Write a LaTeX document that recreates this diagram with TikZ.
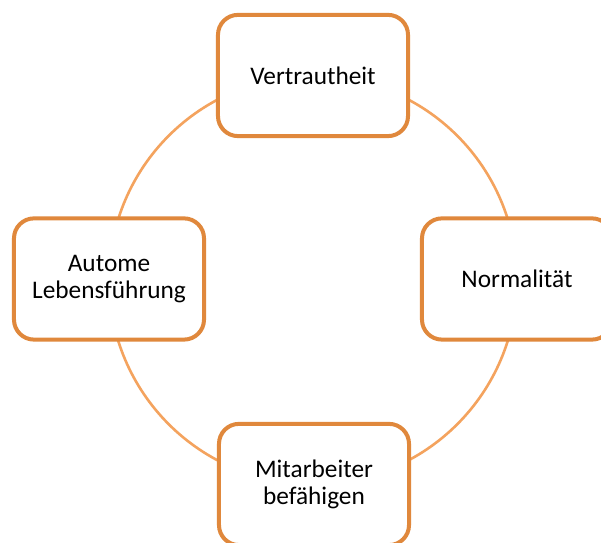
\documentclass[tikz,border=0pt]{standalone}
\usepackage{fontspec}
\setmainfont{Carlito}
\definecolor{boxorange}{HTML}{E0883C}
\definecolor{ringorange}{HTML}{F4A35E}
\tikzset{
  stage/.style={draw=boxorange, line width=0.1cm, rounded corners=0.5cm, fill=white,
    minimum width=4.75cm, minimum height=3.03cm, align=center,
    font=\fontsize{18}{19.5}\selectfont},
  ring/.style={draw=ringorange, line width=0.065cm}
}
\begin{document}
\begin{tikzpicture}[x=0.025cm,y=0.025cm]
        \useasboundingbox (0,0) rectangle (601,543);
        \clip (0,0) rectangle (601,543);
        \fill[white] (0,0) rectangle (601,543);

        \coordinate (mid) at (313,263);
        \draw[ring] (mid) circle (204);

        \node[stage] (trust) at (313,467.5) {Vertrautheit};
        \node[stage] (life) at (109,264) {Autome\\Lebensführung};
        \node[stage] (norm) at (517,264) {Normalität};
        \node[stage] (staff) at (314,58.5) {Mitarbeiter\\befähigen};
    \end{tikzpicture}
\end{document}
